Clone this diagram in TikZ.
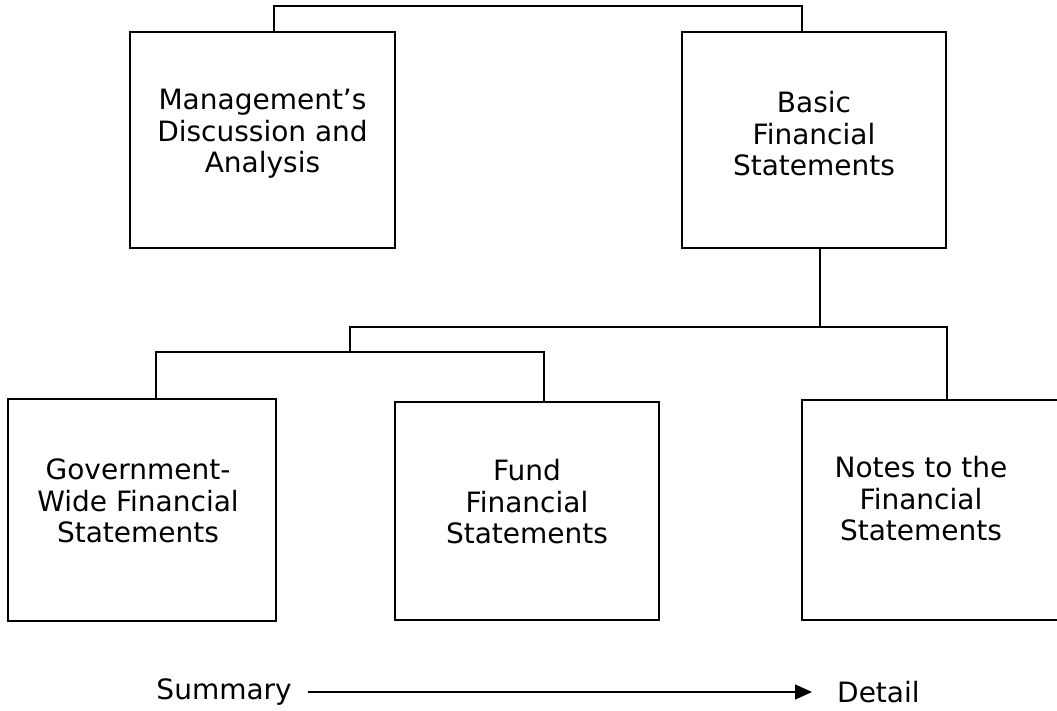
\documentclass[tikz,border=0pt]{standalone}
\usepackage{fontspec}
\setmainfont{DejaVu Sans}
\usetikzlibrary{arrows.meta}

\newcommand{\cardfont}{\fontsize{28}{31.5}\selectfont}

\tikzset{
    card/.style={draw, line width=2pt, inner sep=0pt},
    cardtext/.style={align=center, inner sep=0pt, font=\cardfont},
    link/.style={line width=2pt}
}

\begin{document}
\begin{tikzpicture}[x=1pt, y=-1pt]
        \useasboundingbox (0,0) rectangle (1057,711);
        % The top row
        \node[card, minimum width=265, minimum height=216] (mda) at (262.5,140) {};
        \node[card, minimum width=264, minimum height=216] (bfs) at (814,140) {};
        \node[cardtext] (mda text) at ([yshift=6]mda.center)
            {Management’s\\Discussion and\\Analysis};
        \node[cardtext] (bfs text) at ([yshift=6]bfs.center)
            {Basic\\Financial\\Statements};
        % The bottom row
        \node[card, minimum width=268, minimum height=222] (gw) at (142,510) {};
        \node[card, minimum width=264, minimum height=218] (fund) at (527,511) {};
        \node[card, minimum width=258, minimum height=220] (notes) at (931,510) {};
        \node[cardtext] (gw text) at ([xshift=-4,yshift=9]gw.center)
            {Government-\\Wide Financial\\Statements};
        \node[cardtext] (fund text) at ([yshift=9]fund.center)
            {Fund\\Financial\\Statements};
        \node[cardtext] (notes text) at ([xshift=-10,yshift=11]notes.center)
            {Notes to the\\Financial\\Statements};
        % Join the top row
        \draw[link] ([xshift=11.5]mda.north) -- ++(0,-25)
            -| ([xshift=-12]bfs.north);
        % Split the basic statements
        \draw[link] ([xshift=6]bfs.south) -- ++(0,78) coordinate (bus);
        \draw[link] (bus) -| (notes.north -| bfs.east);
        \draw[link] (bus) -- ++(-470,0) -- ++(0,25) coordinate (low bus);
        \draw[link] ([xshift=14]gw.north) |- (low bus)
            -| ([xshift=17]fund.north);
        % The scale along the bottom
        \node[cardtext, anchor=east] (summary) at (292,692) {Summary};
        \node[cardtext, anchor=west] (detail) at (837,692) {Detail};
        \draw[line width=1.4pt, -{Triangle[length=17pt, width=15pt]}]
            ([xshift=16]summary.east) -- ([xshift=-25]detail.west);
    \end{tikzpicture}
\end{document}
